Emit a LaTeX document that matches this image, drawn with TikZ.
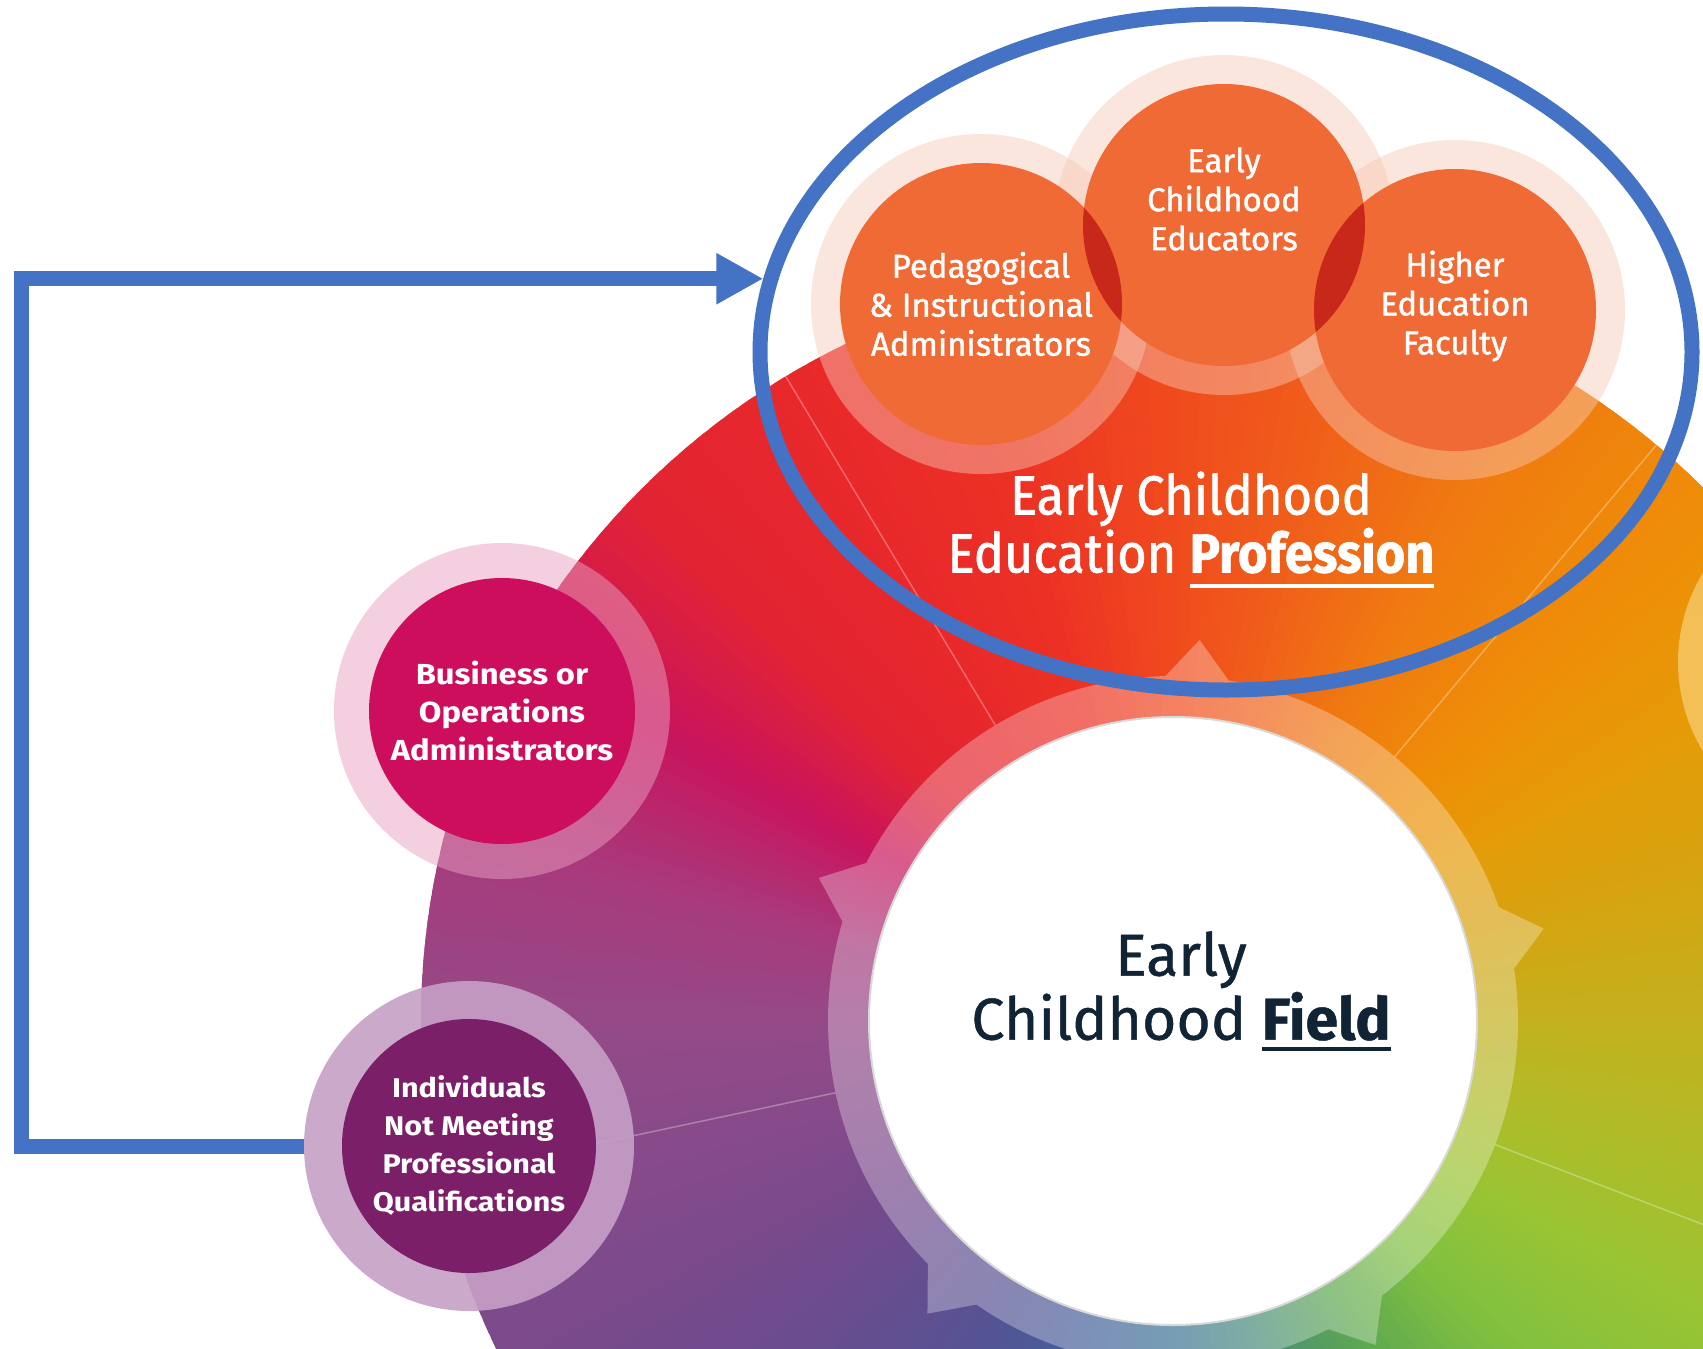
\documentclass[tikz,border=0pt]{standalone}
\usepackage{fontspec}
\setmainfont{Fira Sans}
\newfontfamily\orgfont[FakeBold=1.2]{Fira Sans}
\newfontfamily\condfont[FakeStretch=0.92, FakeBold=1.2]{Fira Sans}
\newfontfamily\widefont[FakeStretch=1.13]{Fira Sans}
\newfontfamily\fieldfont[FakeBold=0.8]{Fira Sans}
\usetikzlibrary{shapes.geometric, arrows.meta, positioning}

% wheel colour stops, every 15 degrees clockwise from the top
\definecolor{d0}{HTML}{F04A1E}\definecolor{d1}{HTML}{F0601A}\definecolor{d2}{HTML}{F07A10}
\definecolor{d3}{HTML}{EF8C08}\definecolor{d4}{HTML}{E69A08}\definecolor{d5}{HTML}{D6A410}
\definecolor{d6}{HTML}{C4B01E}\definecolor{d7}{HTML}{B0BC28}\definecolor{d8}{HTML}{98C434}
\definecolor{d9}{HTML}{80C040}\definecolor{d10}{HTML}{5EA850}\definecolor{d11}{HTML}{4A8E78}
\definecolor{d12}{HTML}{3C7494}\definecolor{d13}{HTML}{44629A}\definecolor{d14}{HTML}{535494}
\definecolor{d15}{HTML}{644E90}\definecolor{d16}{HTML}{764A8C}\definecolor{d17}{HTML}{864A8A}
\definecolor{d18}{HTML}{944A88}\definecolor{d19}{HTML}{A83A7C}\definecolor{d20}{HTML}{C8145E}
\definecolor{d21}{HTML}{E22432}\definecolor{d22}{HTML}{E8282A}\definecolor{d23}{HTML}{EC3224}
\definecolor{arrowblue}{HTML}{4472C4}
\definecolor{profcore}{HTML}{F06A35}
\definecolor{profhalo}{HTML}{F7C8B4}
\definecolor{lens}{HTML}{C8281A}
\definecolor{bizcore}{HTML}{CC0E5C}
\definecolor{bizhalo}{HTML}{E8A0C0}
\definecolor{indcore}{HTML}{7A1F68}
\definecolor{indhalo}{HTML}{C6A0C6}
\definecolor{fieldink}{HTML}{112436}
\definecolor{sunhalo}{HTML}{F6CA6A}

% thick underline below a word
\newcommand{\barunder}[3]{\setbox0\hbox{#3}\rlap{\rule[-#1]{\wd0}{#2}}\box0}

\tikzset{
  halo/.style={circle, inner sep=0pt, minimum size=#1},
  disc/.style={circle, inner sep=0pt, minimum size=#1},
  orgtext/.style={text=white, align=center, font={\orgfont\fontsize{33}{39}\selectfont}},
  sidetext/.style={text=white, align=center, font={\widefont\bfseries\fontsize{#1}{38}\selectfont}},
  link/.style={arrowblue, line width=15pt, -{Triangle[length=47pt,width=48pt]}},
}

\begin{document}
\begin{tikzpicture}[x=1pt, y=1pt]
  \useasboundingbox (0,0) rectangle (1703,-1349);
  \fill[white] (0,0) rectangle (1703,-1349);
  \clip (0,0) rectangle (1703,-1349);
  \coordinate (ctr) at (1173,-1021);

  % colour wheel
  \foreach \a/\ca/\cb in {90/d0/d1, 75/d1/d2, 60/d2/d3, 45/d3/d4, 30/d4/d5, 15/d5/d6,
      0/d6/d7, -15/d7/d8, -30/d8/d9, -45/d9/d10, -60/d10/d11, -75/d11/d12,
      -90/d12/d13, -105/d13/d14, -120/d14/d15, -135/d15/d16, -150/d16/d17, -165/d17/d18,
      -180/d18/d19, -195/d19/d20, -210/d20/d21, -225/d21/d22, -240/d22/d23, -255/d23/d0} {
    \foreach \k in {0,...,9} {
      \pgfmathtruncatemacro\p{\k*10+5}
      \fill[\cb!\p!\ca] (ctr) -- ++(\a-1.5*\k+0.6:752pt)
        arc[start angle=\a-1.5*\k+0.6, end angle=\a-1.5*\k-2.1, radius=752pt] -- cycle;
    }
  }
  \foreach \a in {121, 50, -21, -88, 192}
    \draw[white, opacity=.3, line width=1.5pt] ([shift={(\a:345pt)}]ctr) -- ([shift={(\a:752pt)}]ctr);

  % ring with points round the field
  \fill[white, fill opacity=.3] (ctr) circle[radius=345pt]
    \foreach \a in {86, 14, -58, -130, 158} {
      ([shift={(\a-7:335pt)}]ctr) -- ([shift={(\a:382pt)}]ctr) -- ([shift={(\a+7:335pt)}]ctr) -- cycle
    };
  \node[disc=608pt, fill=white, draw=black!15, line width=2pt] (field) at (ctr) {};
  \node[text=fieldink, align=center, font={\fieldfont\fontsize{59}{64}\selectfont}]
    at ([xshift=8pt, yshift=30pt]field.center)
    {Early\\Childhood \barunder{11pt}{4pt}{\textbf{Field}}};

  % side groups
  \node[halo=336pt, fill=bizhalo, fill opacity=.5] (bizring) at (502,-711) {};
  \node[disc=266pt, fill=bizcore, sidetext=29] (biz) at (bizring)
    {Business or\\Operations\\Administrators};
  \node[halo=330pt, fill=indhalo, fill opacity=.9] (indivring) at (469,-1146) {};
  \node[disc=254pt, fill=indcore, sidetext=27] (indiv) at (indivring)
    {Individuals\\Not Meeting\\Professional\\Qualifications};

  % profession group
  \foreach \c in {(981,-304), (1224,-225), (1455,-310)}
    \fill[profhalo, fill opacity=.45] \c circle[radius=170pt];
  \node[disc=282pt, fill=profcore] (ped) at (981,-304) {};
  \node[disc=282pt, fill=profcore] (ece) at (1224,-225) {};
  \node[disc=282pt, fill=profcore] (hig) at (1455,-310) {};
  \begin{scope}
    \clip (ece) circle[radius=141pt];
    \fill[lens] (ped) circle[radius=141pt];
    \fill[lens] (hig) circle[radius=141pt];
  \end{scope}
  \node[orgtext] at (ped) {Pedagogical\\\& Instructional\\Administrators};
  \node[orgtext] at ([yshift=26pt]ece.center) {Early\\Childhood\\Educators};
  \node[orgtext] at ([yshift=4pt]hig.center) {Higher\\Education\\Faculty};
  \node[text=white, align=center, font={\condfont\fontsize{55}{58}\selectfont}] at (1191,-530)
    {Early Childhood\\Education \barunder{16pt}{4.5pt}{\textbf{Profession}}};

  % edge of the next circle on the right
  \fill[sunhalo, fill opacity=.8] (1850,-662) circle[radius=172pt];

  % highlight and link
  \node[ellipse, draw=arrowblue, line width=15pt, inner sep=0pt,
    minimum width=932pt, minimum height=676pt] (prof) at (1226,-352) {};
  \coordinate (turn) at (21,0);
  \draw[link] (indivring.west) -- (indivring.west -| turn) |- (prof.171);
\end{tikzpicture}
\end{document}
